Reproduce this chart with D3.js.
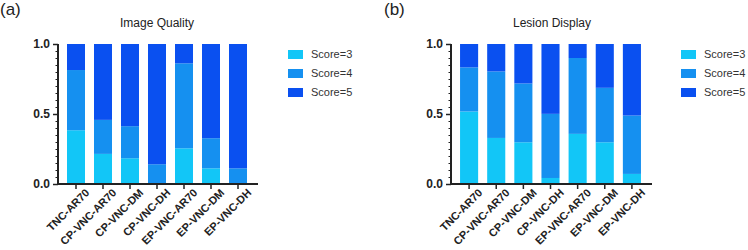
<!DOCTYPE html>
<html>
<head>
<meta charset="utf-8">
<script src="https://cdn.jsdelivr.net/npm/d3@7"></script>
<style>
  body { margin: 0; background: #fff; }
  svg { display: block; font-family: Arial, "Liberation Sans", sans-serif; }
</style>
</head>
<body>
<div id="chart"></div>
<script>
// Categories and series (stacked proportions)
var groups = ["TNC-AR70", "CP-VNC-AR70", "CP-VNC-DM", "CP-VNC-DH", "EP-VNC-AR70", "EP-VNC-DM", "EP-VNC-DH"];
var keys = ["Score=3", "Score=4", "Score=5"];

// Image Quality
var iqScore3 = [0.384, 0.215, 0.184, 0.0, 0.255, 0.112, 0.0];
var iqScore4 = [0.430, 0.243, 0.229, 0.141, 0.607, 0.215, 0.112];
var iqScore5 = [0.186, 0.542, 0.587, 0.859, 0.138, 0.673, 0.888];

// Lesion Display
var ldScore3 = [0.518, 0.329, 0.298, 0.043, 0.358, 0.298, 0.072];
var ldScore4 = [0.315, 0.475, 0.420, 0.458, 0.542, 0.389, 0.417];
var ldScore5 = [0.167, 0.196, 0.282, 0.499, 0.100, 0.313, 0.511];

var yTicks = [0, 0.5, 1.0];
var colors = ["#12c6f7", "#1590f0", "#0a50f0"];

var svg = d3.select("#chart").append("svg")
    .attr("width", 748)
    .attr("height", 250);

function toRows(s3, s4, s5) {
    return groups.map(function(g, i) {
        return { group: g, "Score=3": s3[i], "Score=4": s4[i], "Score=5": s5[i] };
    });
}

function drawPanel(opts) {
    var g = svg.append("g");
    var x0 = opts.axisX, yTop = 44, yBottom = 184;

    var x = d3.scaleBand()
        .domain(groups)
        .range([x0, x0 + opts.axisLen])
        .padding(1 / 3);

    var y = d3.scaleLinear()
        .domain([0, 1])
        .range([yBottom, yTop]);

    var color = d3.scaleOrdinal().domain(keys).range(colors);

    var layers = d3.stack().keys(keys)(opts.rows);

    // bars
    g.selectAll(".layer")
        .data(layers)
        .enter().append("g")
        .attr("fill", function(d) { return color(d.key); })
        .selectAll("rect")
        .data(function(d) { return d; })
        .enter().append("rect")
        .attr("x", function(d) { return x(d.data.group); })
        .attr("width", x.bandwidth())
        .attr("y", function(d) { return y(d[1]); })
        .attr("height", function(d) { return y(d[0]) - y(d[1]); });

    // y axis with minor ticks
    var yAxis = g.append("g")
        .attr("transform", "translate(" + x0 + ",0)")
        .call(d3.axisLeft(y).tickValues(d3.range(0, 1.0001, 0.05)).tickSize(2.5).tickFormat(""));
    yAxis.select(".domain").remove();
    yAxis.selectAll("line").attr("stroke", "#222").attr("stroke-width", 1);

    var yMajor = g.append("g")
        .attr("transform", "translate(" + x0 + ",0)")
        .call(d3.axisLeft(y).tickValues(yTicks).tickSize(5).tickPadding(3).tickFormat(d3.format(".1f")));
    yMajor.select(".domain").attr("stroke", "#222").attr("stroke-width", 2).attr("d", "M0," + (yBottom + 1) + "V" + yTop);
    yMajor.selectAll("line").attr("stroke", "#222").attr("stroke-width", 1.5);
    yMajor.selectAll("text")
        .attr("fill", "#222")
        .style("font-size", "12px")
        .style("font-weight", "bold");

    // x axis
    var xAxis = g.append("g")
        .attr("transform", "translate(0," + yBottom + ")")
        .call(d3.axisBottom(x).tickSize(5).tickPadding(5));
    xAxis.select(".domain").attr("stroke", "#222").attr("stroke-width", 2)
        .attr("d", "M" + (x0 - 1) + ",0H" + (x0 + opts.axisLen + 2));
    xAxis.selectAll("line").attr("stroke", "#222").attr("stroke-width", 1.5);
    xAxis.selectAll("text")
        .attr("fill", "#222")
        .style("font-size", "11px")
        .style("font-weight", "bold")
        .style("text-anchor", "end")
        .attr("dx", "0.3em")
        .attr("dy", "0.6em")
        .attr("transform", "rotate(-45)");

    // title
    g.append("text")
        .attr("x", opts.titleX)
        .attr("y", 27)
        .attr("text-anchor", "middle")
        .attr("fill", "#222")
        .style("font-size", "12px")
        .text(opts.title);

    // panel label
    g.append("text")
        .attr("x", opts.labelX)
        .attr("y", 15)
        .attr("fill", "#222")
        .style("font-size", "17px")
        .text(opts.label);

    // legend
    var legend = g.selectAll(".legend")
        .data(keys)
        .enter().append("g")
        .attr("transform", function(d, i) { return "translate(" + opts.legendX + "," + (54 + i * 19) + ")"; });

    legend.append("rect")
        .attr("x", 0)
        .attr("y", -4)
        .attr("width", 15)
        .attr("height", 9)
        .attr("fill", color);

    legend.append("text")
        .attr("x", 23)
        .attr("y", 0)
        .attr("dy", "0.35em")
        .attr("fill", "#333")
        .style("font-size", "11px")
        .text(function(d) { return d; });
}

drawPanel({
    rows: toRows(iqScore3, iqScore4, iqScore5),
    axisX: 58, axisLen: 198,
    title: "Image Quality", titleX: 157,
    label: "(a)", labelX: 0,
    legendX: 288
});

drawPanel({
    rows: toRows(ldScore3, ldScore4, ldScore5),
    axisX: 451, axisLen: 199,
    title: "Lesion Display", titleX: 552,
    label: "(b)", labelX: 384,
    legendX: 681
});
</script>
</body>
</html>
